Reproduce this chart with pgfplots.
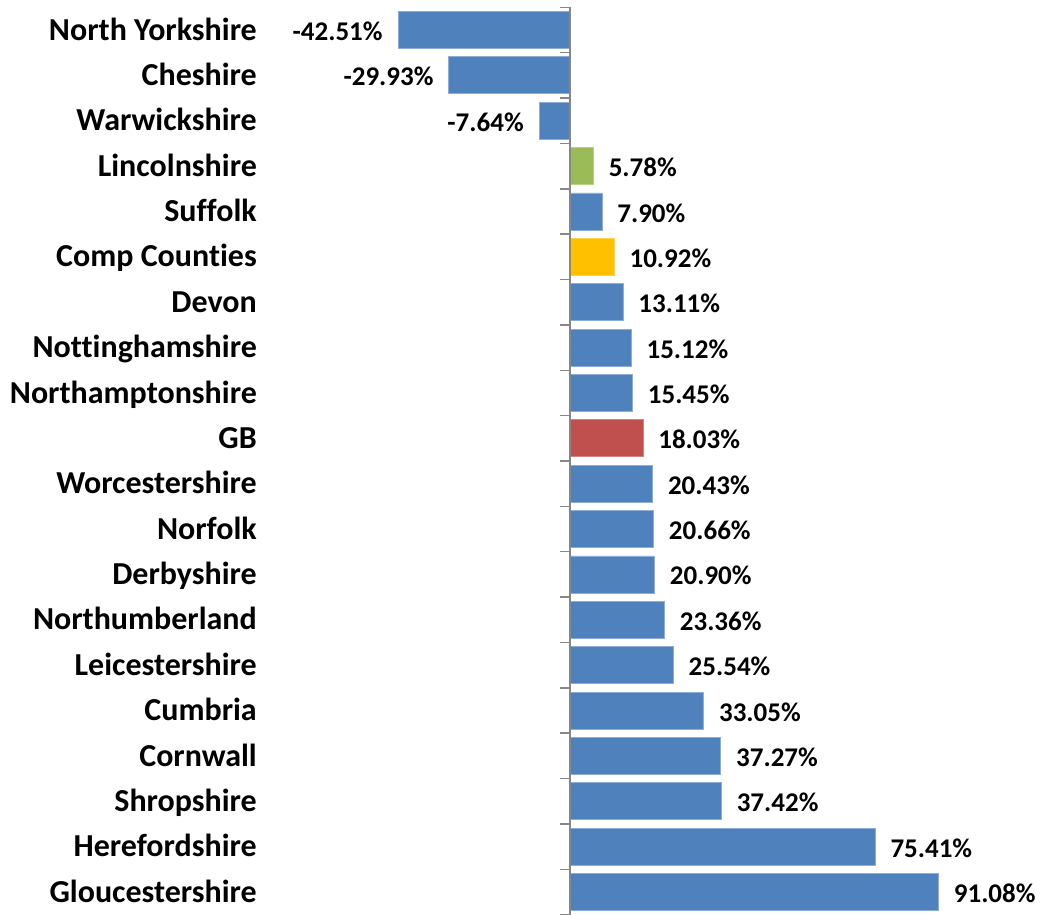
\documentclass[border=0pt]{standalone}
\usepackage{pgfplots}
\pgfplotsset{compat=1.18}
\usepackage{fontspec}
\setmainfont{Carlito}[Ligatures={NoCommon}]
\definecolor{cblue}{HTML}{4F81BD}
\definecolor{cblueedge}{HTML}{8EADD8}
\definecolor{cgreen}{HTML}{9BBB59}
\definecolor{corange}{HTML}{FFC000}
\definecolor{cred}{HTML}{C0504D}
\definecolor{caxis}{HTML}{878787}
\begin{document}
\begin{tikzpicture}
\begin{axis}[
  xbar,
  scale only axis,
  width=785pt, height=907.4pt,
  xmin=-77.36, xmax=116.66,
  ymin=-0.5, ymax=19.5,
  y dir=reverse,
  hide x axis,
  axis line style={draw=none},
  major tick length=0pt,
  ytick={0,...,19},
  yticklabels={North Yorkshire,Cheshire,Warwickshire,Lincolnshire,Suffolk,Comp Counties,Devon,Nottinghamshire,Northamptonshire,GB,Worcestershire,Norfolk,Derbyshire,Northumberland,Leicestershire,Cumbria,Cornwall,Shropshire,Herefordshire,Gloucestershire},
  yticklabel style={font=\fontsize{32}{34}\selectfont\bfseries, anchor=east, inner xsep=0pt, inner ysep=0pt, text height=20.2pt, text depth=0pt},
  clip=false,
  bar width=37pt,
  nodes near coords,
  point meta=explicit symbolic,
  every node near coord/.append style={font=\fontsize{27}{29}\selectfont\bfseries, text=black, inner xsep=15pt, inner ysep=0pt, text height=17.1pt, text depth=0pt, yshift=-2pt, anchor=west},
]
\addplot[bar shift=0pt, fill=cblue, draw=cblueedge, line width=0.8pt,
  every node near coord/.append style={anchor=east}] coordinates {
 (-42.51,0) [-42.51\%]
 (-29.93,1) [-29.93\%]
 (-7.64,2) [-7.64\%]
};
\addplot[bar shift=0pt, fill=cblue, draw=cblueedge, line width=0.8pt] coordinates {
 (7.90,4) [7.90\%]
 (13.11,6) [13.11\%]
 (15.12,7) [15.12\%]
 (15.45,8) [15.45\%]
 (20.43,10) [20.43\%]
 (20.66,11) [20.66\%]
 (20.90,12) [20.90\%]
 (23.36,13) [23.36\%]
 (25.54,14) [25.54\%]
 (33.05,15) [33.05\%]
 (37.27,16) [37.27\%]
 (37.42,17) [37.42\%]
 (75.41,18) [75.41\%]
 (91.08,19) [91.08\%]
};
\addplot[bar shift=0pt, fill=cgreen, draw=cgreen!70!white, line width=0.8pt] coordinates {(5.78,3) [5.78\%]};
\addplot[bar shift=0pt, fill=corange, draw=corange!70!white, line width=0.8pt] coordinates {(10.92,5) [10.92\%]};
\addplot[bar shift=0pt, fill=cred, draw=cred!70!white, line width=0.8pt] coordinates {(18.03,9) [18.03\%]};
\draw[caxis, line width=1.5pt] (axis cs:0,-0.5) -- (axis cs:0,19.5);
\pgfplotsinvokeforeach{-0.5,0.5,...,19.5}{
  \draw[caxis, line width=1.5pt] (axis cs:0,#1) -- ([xshift=-10pt]axis cs:0,#1);
}
\coordinate (tl) at ([xshift=-257pt,yshift=7.3pt]axis cs:-77.36,-0.5);
\coordinate (br) at (axis cs:116.66,19.5);
\end{axis}
\pgfresetboundingbox
\path[use as bounding box] (tl) rectangle (br);
\end{tikzpicture}
\end{document}
